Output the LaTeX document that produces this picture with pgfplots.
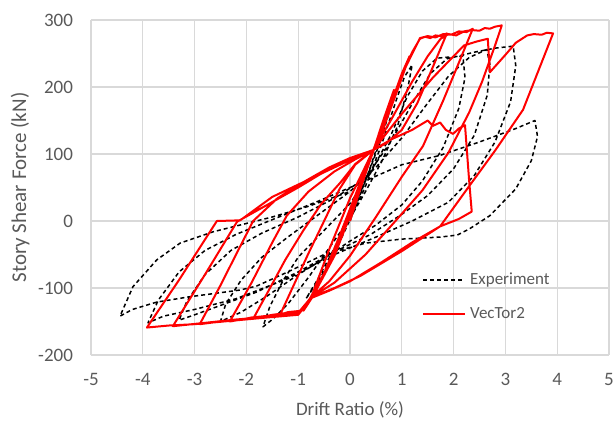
\documentclass[border=0pt]{standalone}
\usepackage{fontspec}
\setmainfont{Carlito}
\usepackage{pgfplots}
\pgfplotsset{compat=1.18}
\definecolor{txt}{RGB}{89,89,89}
\definecolor{gridc}{RGB}{217,217,217}
\definecolor{vt}{RGB}{255,0,0}

\begin{document}
\begin{tikzpicture}
\path[use as bounding box] (0,0) rectangle (307pt,214.5pt);
\begin{axis}[
  at={(45.5pt,37pt)}, anchor=south west,
  scale only axis, width=259pt, height=167.5pt,
  xmin=-5, xmax=5, ymin=-200, ymax=300,
  xtick={-5,...,5}, ytick={-200,-100,...,300},
  grid=major, major grid style={gridc, line width=0.6pt},
  axis line style={draw=none},
  major tick style={draw=none},
  /pgf/number format/assume math mode=true,
  tick label style={font=\fontsize{9.5}{11}\selectfont, text=txt},
  yticklabel style={xshift=-5.5pt},
  xticklabel style={yshift=-5.5pt},
  xlabel={Drift Ratio (\%)},
  ylabel={Story Shear Force (kN)},
  xlabel style={font=\fontsize{9.5}{11}\selectfont, text=txt, at={(axis description cs:0.5,-0.164)}, anchor=center},
  ylabel style={font=\fontsize{10.5}{12}\selectfont, text=txt, at={(axis description cs:-0.137,0.5)}, anchor=center},
  legend style={draw=none, fill=none, at={(axis description cs:0.627,0.271)}, anchor=north west,
    font=\fontsize{8.5}{10}\selectfont, text=txt, row sep=6pt, cells={anchor=west}},
  legend image code/.code={\draw[#1] (0pt,0pt) -- (21pt,0pt);},
]
% experiment
\addplot[black, line width=0.75pt, dash pattern=on 2pt off 1.5pt, line join=round] coordinates {
(0,0) (0.2,40) (0.4,82) (0.6,128) (0.78,168)
(0.6,122) (0.3,60) (0,8) (-0.3,-40) (-0.6,-84) (-0.85,-116)
(-0.6,-88) (-0.3,-48) (0,2) (0.3,52) (0.6,112) (0.9,182) (1.05,215) (1.2,233)
(1.12,200) (0.92,142) (0.62,90) (0.3,44) (0,4) (-0.4,-40) (-0.8,-84) (-1.2,-124) (-1.5,-147) (-1.68,-158)
(-1.55,-128) (-1.3,-90) (-1.0,-54) (-0.5,-14) (0,26) (0.4,72) (0.8,130) (1.1,185) (1.4,224) (1.68,243) (1.95,245) (2.18,246)
(2.22,214) (2.1,168) (1.8,110) (1.4,60) (1.0,24) (0.5,-6) (0,-30) (-0.5,-56) (-1.0,-80) (-1.6,-112) (-2.1,-136) (-2.5,-150)
(-2.4,-124) (-2.1,-88) (-1.7,-54) (-1.2,-24) (-0.6,10) (0,44) (0.5,80) (1.0,124) (1.5,176) (1.9,216) (2.3,244) (2.64,256)
(2.7,234) (2.65,188) (2.4,128) (2.0,78) (1.5,38) (1.0,10) (0.4,-20) (-0.3,-46) (-1.0,-76) (-1.8,-106) (-2.5,-126) (-3.0,-140) (-3.3,-148)
(-3.15,-120) (-2.8,-80) (-2.3,-44) (-1.7,-18) (-1.0,6) (-0.3,34) (0.3,64) (0.8,120) (1.2,175) (1.55,220) (1.87,242) (2.4,252) (2.8,258) (3.15,261)
(3.2,232) (3.1,178) (2.8,118) (2.4,68) (1.9,28) (1.2,0) (0.5,-24) (-0.3,-50) (-1.2,-86) (-2.2,-116) (-3.0,-132) (-3.6,-142) (-3.9,-152)
(-3.7,-118) (-3.3,-76) (-2.8,-44) (-2.2,-20) (-1.5,2) (-0.6,30) (0.3,60) (1.0,84) (1.74,98) (2.5,118) (3.2,138) (3.57,150)
(3.62,126) (3.5,90) (3.2,48) (2.7,8) (2.3,-12) (2.07,-21) (1.74,-24) (1.0,-27) (0.3,-33) (-0.5,-50) (-1.2,-76) (-1.8,-97) (-2.12,-103) (-2.6,-108) (-3.09,-113) (-3.73,-121) (-4.2,-132) (-4.44,-142)
(-4.19,-98) (-3.73,-58) (-3.28,-33) (-2.64,-16) (-2.12,-6) (-1.5,6) (-0.8,22) (0,44)
};
\addlegendentry{Experiment}
% vector2
\addplot[vt, line width=1pt, line join=round] coordinates {
(0,0) (0.2,48) (0.45,105) (0.65,152) (0.85,196)
(0.62,140) (0.45,104) (0.1,28) (-0.3,-52) (-0.72,-113) (-0.9,-134)
(-0.72,-108) (-0.4,-42) (0,34) (0.45,106) (0.75,166) (1.0,220) (1.15,246)
(0.9,192) (0.62,134) (0.45,105) (0.1,30) (-0.3,-50) (-0.73,-113) (-0.95,-134) (-1.2,-136) (-1.35,-140)
(-1.1,-98) (-0.8,-48) (-0.5,0) (-0.2,48) (0.1,84) (0.45,106) (0.75,166) (1.05,226) (1.2,252) (1.35,272) (1.45,275) (1.55,273) (1.65,277) (1.75,276) (1.87,280)
(1.6,230) (1.3,176) (1.0,136) (0.7,116) (0.45,106) (0.2,58) (-0.2,-22) (-0.5,-78) (-0.75,-113) (-0.95,-135) (-1.2,-137) (-1.5,-140) (-1.87,-146)
(-1.6,-108) (-1.25,-58) (-0.9,-14) (-0.55,26) (-0.19,57) (0.1,85) (0.45,106) (0.75,166) (1.05,226) (1.35,273) (1.5,276) (1.65,274) (1.8,279) (1.95,278) (2.1,283) (2.25,282) (2.37,287)
(2.1,236) (1.8,180) (1.41,112) (1.0,66) (0.5,6) (0.0,-52) (-0.4,-90) (-0.75,-114) (-0.97,-136) (-1.4,-140) (-1.9,-144) (-2.1,-147) (-2.32,-150)
(-1.9,-92) (-1.5,-32) (-1.22,8) (-0.8,44) (-0.3,74) (0.1,92) (0.45,106) (0.8,152) (1.2,208) (1.5,246) (1.75,272) (1.9,279) (2.05,277) (2.2,283) (2.35,285) (2.5,284) (2.6,288) (2.7,287) (2.8,290) (2.93,292)
(2.8,262) (2.55,208) (2.3,162) (1.9,102) (1.4,46) (0.9,2) (0.3,-50) (-0.3,-92) (-0.75,-114) (-1.0,-137) (-1.5,-142) (-2.0,-146) (-2.5,-150) (-2.9,-154)
(-2.5,-96) (-2.2,-50) (-1.87,0) (-1.4,34) (-0.9,58) (-0.4,80) (0.0,94) (0.45,106) (0.8,122) (1.2,136) (1.5,150) (1.6,142) (1.74,147) (1.85,136) (1.99,130) (2.1,138) (2.22,143) (2.3,60) (2.35,14) (2.1,3) (1.74,-8) (1.2,-32) (0.6,-62) (0,-90) (-0.4,-104) (-0.75,-115) (-1.0,-138) (-1.6,-143) (-2.2,-147) (-2.8,-152) (-3.42,-157)
(-2.8,-80) (-2.18,-1) (-1.6,24) (-1.0,50) (-0.4,78) (0.0,94) (0.45,106) (1.0,160) (1.6,214) (2.2,262) (2.45,268) (2.66,272) (2.7,222) (3.0,248) (3.2,266) (3.42,277) (3.55,279) (3.7,278) (3.8,281) (3.92,280)
(3.34,166) (2.8,105) (2.3,52) (1.74,-8) (1.0,-45) (0.2,-82) (-0.3,-100) (-0.72,-113) (-1.0,-140) (-1.6,-144) (-2.3,-149) (-3.0,-154) (-3.5,-156) (-3.92,-159)
(-3.3,-88) (-2.57,0) (-2.12,1) (-1.5,36) (-0.52,72) (0,91) (0.45,106)
};
\addlegendentry{VecTor2}
\end{axis}
\end{tikzpicture}
\end{document}
